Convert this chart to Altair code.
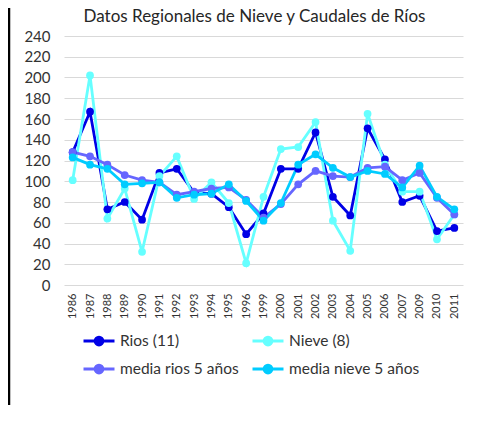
import altair as alt
import pandas as pd

years = ["1986", "1987", "1988", "1989", "1990", "1991", "1992", "1993", "1994", "1995", "1996",
         "1999", "2000", "2001", "2002", "2003", "2004", "2005", "2006", "2007", "2009", "2010", "2011"]
rios = [128, 167, 73, 80, 63, 108, 112, 89, 88, 75, 49, 69, 112, 112, 147, 85, 67, 151, 121, 80, 86, 52, 55]
nieve = [101, 202, 64, 93, 32, 105, 124, 83, 99, 79, 21, 85, 131, 133, 157, 62, 33, 165, 116, 90, 90, 44, 68]
media_rios = [128, 124, 116, 106, 101, 99, 87, 90, 93, 94, 82, 65, 78, 97, 110, 105, 104, 113, 114, 101, 108, 84, 68]
media_nieve = [123, 116, 112, 97, 98, 99, 84, 87, 88, 97, 81, 62, 79, 116, 126, 113, 104, 110, 107, 94, 115, 85, 73]

series_names = ["Rios (11)", "Nieve (8)", "media rios 5 años", "media nieve 5 años"]
series_colors = ["#0000E6", "#66FFFF", "#6666FF", "#00CCFF"]
title_text = "Datos Regionales de Nieve y Caudales de Ríos"

rows = []
for name, vals in zip(series_names, [rios, nieve, media_rios, media_nieve]):
    for y, v in zip(years, vals):
        rows.append({"year": y, "value": v, "serie": name})
df = pd.DataFrame(rows)

FONT = "Lato"
sym_path = "M-1,0L1,0M0.25,0A0.25,0.25,0,1,1,-0.25,0A0.25,0.25,0,1,1,0.25,0Z"

lines = alt.Chart(df).mark_line(
    strokeWidth=2.8,
    point=alt.OverlayMarkDef(filled=True, size=60, opacity=1),
).encode(
    x=alt.X("year:N", sort=years, title=None,
            axis=alt.Axis(labelAngle=270, labelFont=FONT, labelFontSize=11,
                          labelColor="#333333", labelPadding=8, ticks=False,
                          domain=False, grid=False)),
    y=alt.Y("value:Q", title=None,
            scale=alt.Scale(domain=[0, 240], nice=False),
            axis=alt.Axis(values=list(range(0, 241, 20)), labelFont=FONT,
                          labelFontSize=15, labelColor="#333333", labelPadding=14,
                          ticks=False, domain=False, grid=True,
                          gridColor="#D9D9D9", gridWidth=1)),
    color=alt.Color("serie:N", sort=series_names,
                    scale=alt.Scale(domain=series_names, range=series_colors),
                    legend=alt.Legend(
                        title=None, orient="none", legendX=18, legendY=295,
                        direction="horizontal", columns=2, columnPadding=12,
                        rowPadding=8, gridAlign="each",
                        symbolType=sym_path, symbolSize=961, symbolStrokeWidth=3,
                        clipHeight=20, labelFont=FONT, labelFontSize=15.5,
                        labelColor="#333333", labelOffset=4,
                    )),
)

border = alt.Chart(pd.DataFrame({"a": [0]})).mark_rule(
    color="black", strokeWidth=2.5
).encode(x=alt.value(-55), y=alt.value(-28), y2=alt.value(369))

title = alt.Chart(pd.DataFrame({"t": [title_text]})).mark_text(
    font=FONT, fontSize=17, color="#262626", align="center", baseline="middle"
).encode(text="t:N", x=alt.value(190.5), y=alt.value(-19))

chart = alt.layer(lines, border, title).properties(
    width=399, height=249,
    autosize=alt.AutoSizeParams(type="none"),
    padding={"left": 56, "top": 28, "right": 11, "bottom": 120},
).configure_view(stroke=None)

chart.save("out.html", embed_options={"renderer": "svg", "actions": False})
